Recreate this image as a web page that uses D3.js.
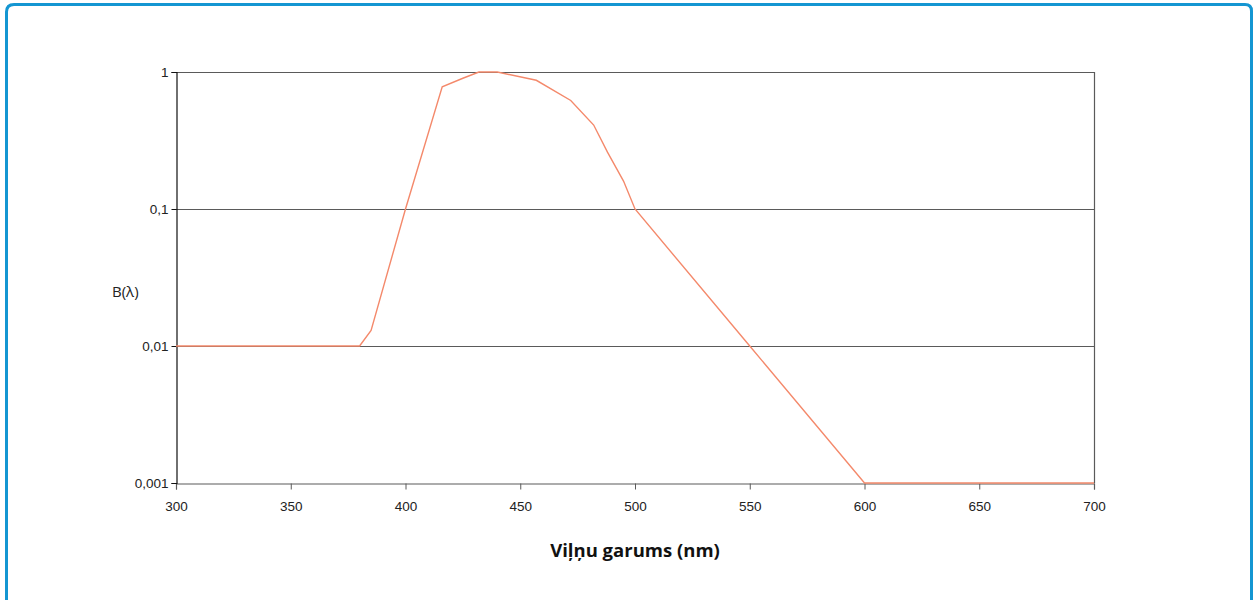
<!DOCTYPE html>
<html>
<head>
<meta charset="utf-8">
<script src="https://cdn.jsdelivr.net/npm/d3@7"></script>
<style>
  body { margin: 0; background: #fff; }
  svg { display: block; font-family: "Open Sans", "Noto Sans", sans-serif; }
</style>
</head>
<body>
<div id="chart"></div>
<script>
// wavelength (nm) and blue-light hazard weighting B(lambda)
var wavelengths = [300, 380, 385, 400, 416, 425, 432, 440, 457, 472, 482, 488, 495, 500, 550, 600, 700];
var hazard = [0.01, 0.01, 0.013, 0.1, 0.78, 0.9, 1.0, 1.0, 0.87, 0.62, 0.41, 0.26, 0.16, 0.1, 0.01, 0.001, 0.001];
var xTicks = [300, 350, 400, 450, 500, 550, 600, 650, 700];
var yTicks = [0.001, 0.01, 0.1, 1];
var yTickLabels = ["0,001", "0,01", "0,1", "1"];
var xTitle = "Viļņu garums (nm)";
var yTitle = "B(λ)";

var data = wavelengths.map(function (w, i) { return { w: w, b: hazard[i] } });

var W = 1254, H = 600;
var margin = { top: 72, right: 160, bottom: 117, left: 176 },
  width = W - margin.left - margin.right,
  height = H - margin.top - margin.bottom;

var svg = d3.select("#chart")
  .append("svg")
  .attr("width", W)
  .attr("height", H)

// blue frame
svg.append("path")
  .attr("d", "M6.5,600 L6.5,12 Q6.5,4.5 14,4.5 L1245,4.5 Q1251.5,4.5 1251.5,11 L1251.5,600")
  .attr("fill", "none")
  .attr("stroke", "#1496d2")
  .attr("stroke-width", 3)

var g = svg.append("g")
  .attr("transform", "translate(" + margin.left + "," + margin.top + ")")

var x = d3.scaleLinear()
  .domain([300, 700])
  .range([0, width])

var y = d3.scaleLog()
  .domain([0.001, 1])
  .range([height, 0])

// gridlines
g.selectAll(".grid")
  .data(yTicks.slice(1))
  .enter()
  .append("line")
  .attr("x1", 0)
  .attr("x2", width)
  .attr("y1", function (d) { return Math.round(y(d)) + 0.5 })
  .attr("y2", function (d) { return Math.round(y(d)) + 0.5 })
  .attr("stroke", "#5a5a5a")
  .attr("stroke-width", 1.2)

// right border
g.append("line")
  .attr("x1", width + 0.5).attr("x2", width + 0.5)
  .attr("y1", 0).attr("y2", height)
  .attr("stroke", "#5a5a5a")
  .attr("stroke-width", 1.2)

var xAxis = g.append("g")
  .attr("transform", "translate(0," + (height + 0.5) + ")")
  .call(d3.axisBottom(x).tickValues(xTicks).tickSize(6).tickPadding(12).tickFormat(d3.format("d")))
xAxis.select(".domain").attr("stroke", "#5a5a5a").attr("stroke-width", 1.2)
xAxis.selectAll(".tick line").attr("stroke", "#5a5a5a")
xAxis.selectAll("text").attr("font-size", 13.5).attr("fill", "#222")

var yAxis = g.append("g")
  .attr("transform", "translate(0.5,0)")
  .call(d3.axisLeft(y).tickValues(yTicks).tickSize(5).tickPadding(3)
    .tickFormat(function (d, i) { return yTickLabels[i] }))
yAxis.select(".domain").attr("stroke", "#111").attr("stroke-width", 1.2)
yAxis.selectAll(".tick line").attr("stroke", "#111")
yAxis.selectAll("text").attr("font-size", 13.5).attr("fill", "#222")

var line = d3.line()
  .x(function (d) { return x(d.w) })
  .y(function (d) { return y(d.b) })

g.append("path")
  .datum(data)
  .attr("d", line)
  .attr("fill", "none")
  .attr("stroke", "#f4896b")
  .attr("stroke-width", 1.4)

svg.append("text")
  .attr("x", margin.left + width / 2)
  .attr("y", 557)
  .attr("text-anchor", "middle")
  .attr("font-size", 18.5)
  .attr("font-weight", "bold")
  .attr("fill", "#111")
  .text(xTitle)

svg.append("text")
  .attr("x", 112)
  .attr("y", 297)
  .attr("font-size", 15)
  .attr("fill", "#222")
  .text(yTitle)
</script>
</body>
</html>
